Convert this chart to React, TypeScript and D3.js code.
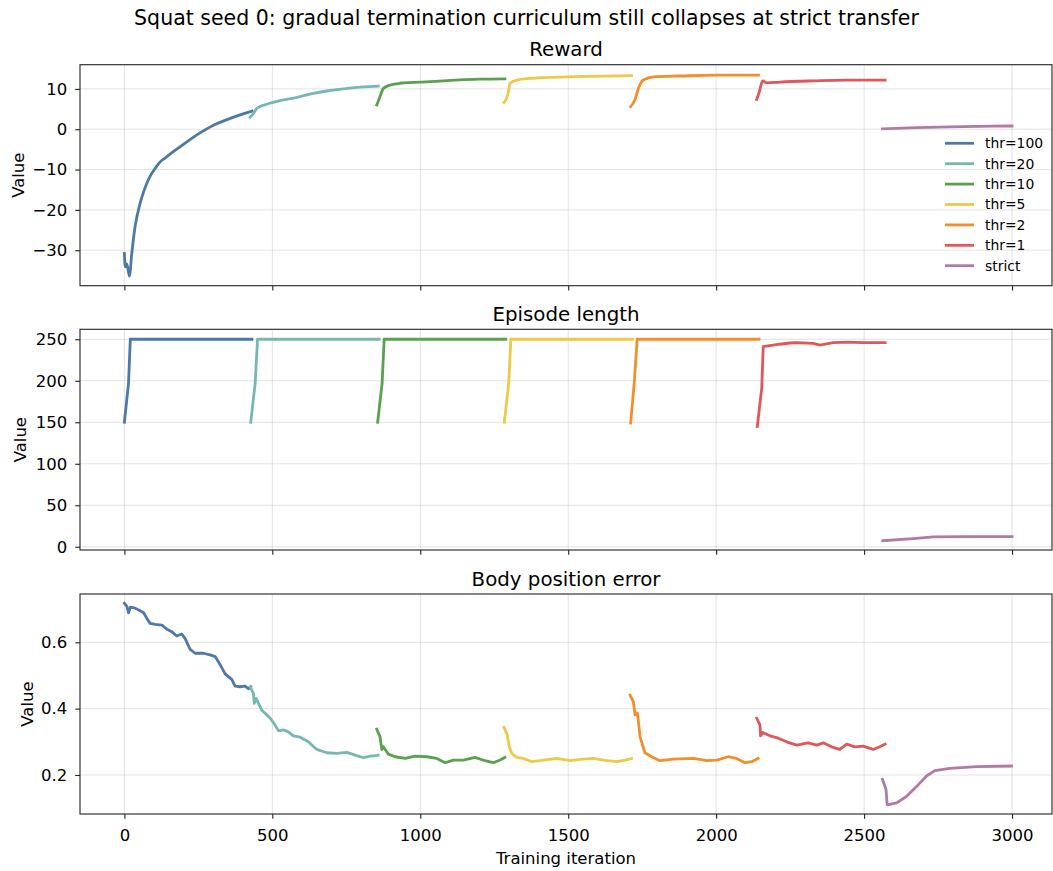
import React, { useEffect, useRef } from 'react';
import * as d3 from 'd3';

// curriculum stages, in order
const stages = ['thr=100', 'thr=20', 'thr=10', 'thr=5', 'thr=2', 'thr=1', 'strict'];
const stageColors = ['#4e79a7', '#76b7b2', '#59a14f', '#edc948', '#f28e2b', '#e15759', '#b07aa1'];

// reward per stage: [iteration, value]
const rewardRuns: number[][][] = [
  [[0, -30.8], [3, -34.1], [8, -33.4], [17, -36.4], [25, -30.8], [36, -24.2], [53, -18.4], [65, -15.5], [76, -13.4], [89, -11.4], [104, -9.7], [121, -8.1], [144, -6.8], [166, -5.5], [189, -4.3], [245, -1.4], [301, 1.0], [358, 2.7], [431, 4.5]],
  [[425, 2.95], [436, 3.9], [448, 5.2], [481, 6.2], [526, 7.1], [583, 7.9], [639, 8.9], [695, 9.6], [752, 10.1], [808, 10.5], [858, 10.7]],
  [[853, 6.0], [864, 8.1], [875, 10.1], [892, 10.8], [932, 11.4], [1033, 11.8], [1202, 12.4], [1286, 12.5]],
  [[1283, 6.6], [1298, 9.3], [1303, 11.4], [1326, 12.2], [1371, 12.6], [1500, 13.0], [1714, 13.3]],
  [[1711, 5.6], [1726, 7.4], [1737, 10.1], [1754, 12.2], [1788, 13.0], [1878, 13.2], [2002, 13.4], [2143, 13.4]],
  [[2137, 7.4], [2146, 9.3], [2150, 10.5], [2157, 12.0], [2171, 11.5], [2216, 11.7], [2328, 12.0], [2441, 12.2], [2571, 12.2]],
  [[2562, 0.1], [2677, 0.4], [2790, 0.6], [3000, 0.8]],
];

// episode length per stage
const lengthRuns: number[][][] = [
  [[0, 150], [14, 197], [20, 250], [431, 250]],
  [[427, 150], [442, 197], [450, 250], [861, 250]],
  [[856, 150], [871, 197], [878, 250], [1289, 250]],
  [[1284, 150], [1299, 197], [1306, 250], [1717, 250]],
  [[1711, 149], [1723, 197], [1733, 250], [2145, 250]],
  [[2139, 145], [2154, 191], [2159, 241], [2215, 244], [2250, 245.5], [2272, 246], [2328, 245], [2351, 243], [2396, 246], [2441, 246.5], [2497, 246], [2571, 246]],
  [[2563, 7.3], [2666, 9.8], [2734, 11.8], [2835, 12.2], [3000, 12.2]],
];

// body position error per stage
const errorRuns: number[][][] = [
  [[0, 0.718], [8, 0.709], [14, 0.689], [20, 0.706], [36, 0.703], [53, 0.695], [65, 0.689], [76, 0.672], [87, 0.657], [104, 0.654], [127, 0.652], [144, 0.639], [160, 0.632], [177, 0.619], [194, 0.625], [205, 0.612], [222, 0.579], [239, 0.567], [267, 0.567], [290, 0.562], [307, 0.557], [324, 0.532], [341, 0.504], [363, 0.488], [374, 0.468], [391, 0.466], [408, 0.468], [419, 0.46], [427, 0.466]],
  [[425, 0.466], [436, 0.446], [439, 0.416], [445, 0.431], [464, 0.396], [493, 0.371], [509, 0.351], [521, 0.333], [538, 0.336], [554, 0.33], [571, 0.318], [594, 0.314], [622, 0.3], [650, 0.277], [684, 0.267], [718, 0.265], [752, 0.268], [780, 0.26], [808, 0.252], [830, 0.257], [847, 0.258], [858, 0.26]],
  [[853, 0.338], [864, 0.315], [870, 0.277], [875, 0.285], [892, 0.263], [915, 0.255], [949, 0.25], [982, 0.257], [1022, 0.255], [1056, 0.25], [1084, 0.237], [1112, 0.245], [1146, 0.245], [1185, 0.253], [1219, 0.243], [1247, 0.237], [1270, 0.245], [1286, 0.253]],
  [[1283, 0.344], [1294, 0.32], [1301, 0.285], [1309, 0.265], [1326, 0.253], [1348, 0.25], [1377, 0.24], [1416, 0.245], [1461, 0.25], [1506, 0.243], [1540, 0.247], [1585, 0.25], [1619, 0.245], [1664, 0.24], [1692, 0.245], [1714, 0.25]],
  [[1709, 0.441], [1720, 0.421], [1726, 0.381], [1734, 0.386], [1743, 0.315], [1759, 0.267], [1782, 0.255], [1810, 0.243], [1855, 0.248], [1923, 0.25], [1968, 0.243], [2002, 0.245], [2041, 0.255], [2069, 0.25], [2097, 0.237], [2120, 0.24], [2142, 0.25]],
  [[2137, 0.371], [2148, 0.351], [2150, 0.318], [2157, 0.328], [2182, 0.318], [2210, 0.311], [2238, 0.3], [2272, 0.29], [2311, 0.297], [2340, 0.29], [2362, 0.297], [2390, 0.285], [2418, 0.277], [2441, 0.293], [2469, 0.285], [2497, 0.287], [2531, 0.277], [2553, 0.285], [2571, 0.293]],
  [[2562, 0.187], [2574, 0.157], [2578, 0.11], [2610, 0.116], [2643, 0.135], [2677, 0.165], [2711, 0.197], [2739, 0.213], [2790, 0.22], [2880, 0.225], [2998, 0.227]],
];

const xTicks = [0, 500, 1000, 1500, 2000, 2500, 3000];
const rewardTicks = [-30, -20, -10, 0, 10];
const lengthTicks = [0, 50, 100, 150, 200, 250];
const errorTicks = [0.2, 0.4, 0.6];

const W = 1053;
const H = 871;
const left = 80;
const right = 1052;
const font = 'DejaVu Sans, sans-serif';
const fsMedium = 16.5;
const fsLarge = 19.8;

export default function App() {
  const ref = useRef<SVGSVGElement>(null);

  useEffect(() => {
    const svg = d3.select(ref.current);
    svg.selectAll('*').remove();

    const x = d3.scaleLinear().domain([-150, 3135]).range([left, right]);

    const panels = [
      { title: 'Reward', runs: rewardRuns, ticks: rewardTicks, fmt: d3.format('d'), top: 64.7, bottom: 285.7, dom: [-38.8, 16.0], labelX: 23.5, curve: d3.curveMonotoneX },
      { title: 'Episode length', runs: lengthRuns, ticks: lengthTicks, fmt: d3.format('d'), top: 329.3, bottom: 550, dom: [-3.9, 262], labelX: 26, curve: d3.curveLinear },
      { title: 'Body position error', runs: errorRuns, ticks: errorTicks, fmt: d3.format('.1f'), top: 594, bottom: 814, dom: [0.0824, 0.7456], labelX: 33, curve: d3.curveLinear },
    ];

    // suptitle
    svg.append('text')
      .attr('x', W / 2).attr('y', 25)
      .attr('text-anchor', 'middle')
      .attr('font-size', 20.5)
      .attr('fill', '#000')
      .text('Squat seed 0: gradual termination curriculum still collapses at strict transfer');

    panels.forEach((p, pi) => {
      const y = d3.scaleLinear().domain(p.dom).range([p.bottom, p.top]);
      const g = svg.append('g');

      // grid
      g.append('g').selectAll('line').data(xTicks).join('line')
        .attr('x1', (d) => x(d)).attr('x2', (d) => x(d))
        .attr('y1', p.top).attr('y2', p.bottom)
        .attr('stroke', '#b0b0b0').attr('stroke-opacity', 0.35).attr('stroke-width', 1);
      g.append('g').selectAll('line').data(p.ticks).join('line')
        .attr('x1', left).attr('x2', right)
        .attr('y1', (d) => y(d)).attr('y2', (d) => y(d))
        .attr('stroke', '#b0b0b0').attr('stroke-opacity', 0.35).attr('stroke-width', 1);

      // lines
      const line = d3.line<number[]>().x((d) => x(d[0])).y((d) => y(d[1])).curve(p.curve);
      p.runs.forEach((run, i) => {
        g.append('path')
          .datum(run)
          .attr('d', line)
          .attr('fill', 'none')
          .attr('stroke', stageColors[i])
          .attr('stroke-width', 2.8)
          .attr('stroke-linejoin', 'round')
          .attr('stroke-linecap', 'square');
      });

      // axes
      const yAxis = d3.axisLeft(y).tickValues(p.ticks).tickFormat(p.fmt as any).tickSize(4.8).tickPadding(8);
      const ya = g.append('g').attr('transform', `translate(${left},0)`).call(yAxis);
      const xAxis = d3.axisBottom(x).tickValues(xTicks).tickFormat(pi === 2 ? (d3.format('d') as any) : () => '').tickSize(4.8).tickPadding(10.2);
      const xa = g.append('g').attr('transform', `translate(0,${p.bottom})`).call(xAxis);
      [ya, xa].forEach((a) => {
        a.select('.domain').remove();
        a.selectAll('.tick line').attr('stroke', '#222').attr('stroke-width', 1.1);
        a.selectAll('.tick text').attr('fill', '#000').attr('font-size', fsMedium).attr('font-family', font);
      });

      // frame
      g.append('rect')
        .attr('x', left).attr('y', p.top)
        .attr('width', right - left).attr('height', p.bottom - p.top)
        .attr('fill', 'none').attr('stroke', '#222').attr('stroke-width', 1.1);

      // titles
      g.append('text')
        .attr('x', (left + right) / 2).attr('y', p.top - 8.5)
        .attr('text-anchor', 'middle').attr('font-size', fsLarge)
        .text(p.title);
      g.append('text')
        .attr('transform', `translate(${p.labelX},${(p.top + p.bottom) / 2}) rotate(-90)`)
        .attr('text-anchor', 'middle').attr('font-size', fsMedium)
        .text('Value');
    });

    svg.append('text')
      .attr('x', (left + right) / 2).attr('y', 863.5)
      .attr('text-anchor', 'middle').attr('font-size', fsMedium)
      .text('Training iteration');

    // legend (top panel, right side)
    const leg = svg.append('g').attr('transform', 'translate(945,143.3)');
    stages.forEach((s, i) => {
      const row = leg.append('g').attr('transform', `translate(0,${i * 20.4})`);
      row.append('line').attr('x1', 0).attr('x2', 29).attr('y1', 0).attr('y2', 0)
        .attr('stroke', stageColors[i]).attr('stroke-width', 2.8);
      row.append('text').attr('x', 40).attr('y', 0).attr('dy', '0.35em')
        .attr('font-size', 13.9).text(s);
    });
  }, []);

  return (
    <svg
      ref={ref}
      width={W}
      height={H}
      style={{ position: 'absolute', left: 0, top: 0, background: '#fff', fontFamily: font }}
    />
  );
}
